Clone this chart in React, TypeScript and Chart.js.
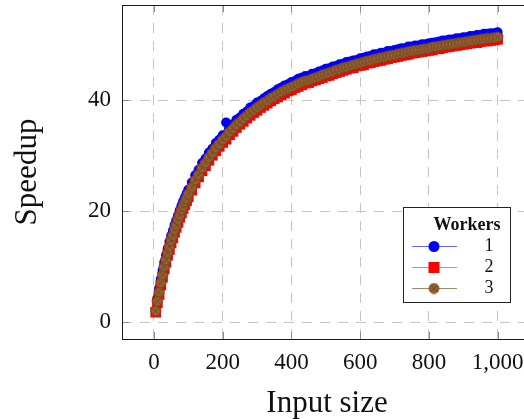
import React, { useEffect, useRef } from 'react';
import { Chart, registerables } from 'chart.js';

Chart.register(...registerables);

const SERIF = "'Liberation Serif', 'DejaVu Serif', serif";

const inputSizes = [
  5, 10, 15, 20, 25, 30, 35, 40, 45, 50, 55, 60, 65, 70, 75, 80, 85, 90, 95, 100,
  110, 120, 130, 140, 150, 160, 170, 180, 190, 200,
  210, 220, 230, 240, 250, 260, 270, 280, 290, 300,
  310, 320, 330, 340, 350, 360, 370, 380, 390, 400,
  410, 420, 430, 440, 450, 460, 470, 480, 490, 500,
  510, 520, 530, 540, 550, 560, 570, 580, 590, 600,
  610, 620, 630, 640, 650, 660, 670, 680, 690, 700,
  710, 720, 730, 740, 750, 760, 770, 780, 790, 800,
  810, 820, 830, 840, 850, 860, 870, 880, 890, 900,
  910, 920, 930, 940, 950, 960, 970, 980, 990, 1000,
];

const workers1 = [
  2.2, 4.3, 6.1, 7.8, 9.3, 10.8, 12.1, 13.3, 14.5, 15.6, 16.5, 17.5, 18.4, 19.3, 20.2, 21.0, 21.8, 22.5, 23.2, 23.9,
  25.2, 26.5, 27.5, 28.7, 29.5, 30.6, 31.3, 32.3, 32.9, 33.7,
  36.0, 35.1, 35.7, 36.5, 36.9, 37.6, 38.0, 38.7, 39.0, 39.6,
  39.9, 40.4, 40.8, 41.2, 41.5, 42.0, 42.3, 42.7, 42.9, 43.3,
  43.5, 43.9, 44.1, 44.4, 44.4, 44.8, 44.9, 45.2, 45.4, 45.7,
  45.8, 46.1, 46.2, 46.5, 46.6, 46.9, 47.0, 47.2, 47.3, 47.6,
  47.7, 47.9, 48.0, 48.3, 48.3, 48.6, 48.6, 48.9, 48.9, 49.1,
  49.2, 49.4, 49.4, 49.7, 49.7, 49.9, 49.9, 50.1, 50.1, 50.3,
  50.4, 50.5, 50.6, 50.8, 50.8, 51.0, 51.0, 51.2, 51.2, 51.4,
  51.4, 51.6, 51.6, 51.8, 51.8, 52.0, 52.0, 52.1, 52.1, 52.3,
];

const workers2 = [
  1.8, 3.5, 5.0, 6.7, 8.1, 9.6, 10.8, 12.1, 13.1, 14.3, 15.2, 16.2, 17.1, 18.0, 18.9, 19.7, 20.5, 21.2, 21.9, 22.6,
  23.8, 25.1, 26.2, 27.3, 28.2, 29.2, 30.1, 30.9, 31.7, 32.4,
  33.0, 33.8, 34.4, 35.1, 35.7, 36.2, 36.8, 37.3, 37.8, 38.2,
  38.7, 39.1, 39.5, 39.9, 40.3, 40.6, 41.0, 41.3, 41.7, 41.9,
  42.3, 42.5, 42.8, 43.1, 43.2, 43.5, 43.7, 43.9, 44.1, 44.4,
  44.5, 44.8, 45.0, 45.2, 45.4, 45.6, 45.8, 45.9, 46.2, 46.3,
  46.4, 46.7, 46.8, 47.0, 47.1, 47.2, 47.4, 47.5, 47.7, 47.8,
  47.9, 48.1, 48.2, 48.3, 48.5, 48.6, 48.7, 48.8, 48.9, 49.0,
  49.1, 49.3, 49.3, 49.5, 49.6, 49.7, 49.8, 49.9, 50.0, 50.1,
  50.2, 50.3, 50.4, 50.4, 50.6, 50.7, 50.7, 50.8, 50.9, 51.0,
];

const workers3 = [
  2.0, 3.8, 5.4, 7.1, 8.5, 10.0, 11.2, 12.5, 13.6, 14.7, 15.6, 16.7, 17.5, 18.5, 19.3, 20.2, 20.9, 21.7, 22.3, 23.1,
  24.3, 25.6, 26.6, 27.8, 28.7, 29.7, 30.5, 31.4, 32.1, 32.9,
  33.5, 34.3, 34.9, 35.6, 36.1, 36.7, 37.2, 37.8, 38.2, 38.7,
  39.1, 39.6, 39.9, 40.4, 40.7, 41.1, 41.5, 41.8, 42.1, 42.4,
  42.7, 43.0, 43.3, 43.5, 43.6, 43.9, 44.1, 44.3, 44.6, 44.8,
  45.0, 45.2, 45.5, 45.6, 45.9, 46.0, 46.2, 46.4, 46.6, 46.7,
  46.9, 47.1, 47.2, 47.4, 47.5, 47.7, 47.8, 48.0, 48.1, 48.2,
  48.4, 48.5, 48.6, 48.8, 48.9, 49.0, 49.1, 49.2, 49.3, 49.4,
  49.6, 49.7, 49.8, 49.9, 50.0, 50.1, 50.2, 50.3, 50.4, 50.5,
  50.6, 50.7, 50.8, 50.9, 51.0, 51.1, 51.2, 51.2, 51.3, 51.4,
];

const seriesLabels = ['1', '2', '3'];
const legendTitle = 'Workers';
const xTicks = [0, 200, 400, 600, 800, 1000];
const yTicks = [0, 20, 40];
const xTitle = 'Input size';
const yTitle = 'Speedup';

const BLUE = '#0000ff';
const RED = '#ff0000';
const BROWN_FILL = '#94602f';
const BROWN_EDGE = '#6a421f';

function makeOtimes(): HTMLCanvasElement {
  const c = document.createElement('canvas');
  c.width = 12;
  c.height = 12;
  const g = c.getContext('2d')!;
  g.beginPath();
  g.arc(6, 6, 5, 0, Math.PI * 2);
  g.fillStyle = BROWN_FILL;
  g.fill();
  g.lineWidth = 0.8;
  g.strokeStyle = BROWN_EDGE;
  g.stroke();
  g.beginPath();
  g.moveTo(2.6, 2.6);
  g.lineTo(9.4, 9.4);
  g.moveTo(9.4, 2.6);
  g.lineTo(2.6, 9.4);
  g.lineWidth = 0.7;
  g.stroke();
  return c;
}

export default function App() {
  const ref = useRef<HTMLCanvasElement | null>(null);

  useEffect(() => {
    const canvas = ref.current;
    if (!canvas) return;
    const otimes = makeOtimes();

    const framePlugin = {
      id: 'framePlugin',
      afterDraw(chart: any) {
        const { ctx, chartArea: a, scales } = chart;
        const xs = scales.x;
        const ys = scales.y;
        ctx.save();
        const line = (x1: number, y1: number, x2: number, y2: number) => {
          ctx.beginPath();
          ctx.moveTo(x1, y1);
          ctx.lineTo(x2, y2);
          ctx.stroke();
        };
        // inner tick marks
        ctx.strokeStyle = '#8c8c8c';
        ctx.lineWidth = 1;
        xs.ticks.forEach((t: any) => {
          const px = Math.round(xs.getPixelForValue(t.value)) + 0.5;
          line(px, a.bottom, px, a.bottom - 7);
          line(px, a.top, px, a.top + 7);
        });
        ys.ticks.forEach((t: any) => {
          const py = Math.round(ys.getPixelForValue(t.value)) + 0.5;
          line(a.left, py, a.left + 7, py);
          line(a.right, py, a.right - 7, py);
        });
        // frame
        ctx.strokeStyle = '#1a1a1a';
        ctx.strokeRect(Math.round(a.left) + 0.5, Math.round(a.top) + 0.5, Math.round(a.width), Math.round(a.height));

        // legend
        const lx = Math.round(a.right) - 129;
        const ly = Math.round(a.bottom) - 132;
        const lw = 107;
        const lh = 95;
        ctx.fillStyle = '#ffffff';
        ctx.fillRect(lx, ly, lw, lh);
        ctx.strokeStyle = '#222222';
        ctx.strokeRect(lx + 0.5, ly + 0.5, lw, lh);
        ctx.fillStyle = '#111111';
        ctx.textAlign = 'center';
        ctx.textBaseline = 'middle';
        ctx.font = `bold 18px ${SERIF}`;
        ctx.fillText(legendTitle, lx + 64, ly + 18);
        ctx.font = `18px ${SERIF}`;
        const rows = [39, 60, 81];
        const lineCols = ['rgba(0,0,255,0.6)', 'rgba(255,0,0,0.55)', 'rgba(140,95,50,0.75)'];
        chart.data.datasets.forEach((ds: any, i: number) => {
          const ry = ly + rows[i] + 0.5;
          ctx.strokeStyle = lineCols[i];
          ctx.lineWidth = 1.2;
          line(lx + 9, ry, lx + 54, ry);
          const mx = lx + 31;
          if (i === 0) {
            ctx.fillStyle = BLUE;
            ctx.beginPath();
            ctx.arc(mx, ry, 5.5, 0, Math.PI * 2);
            ctx.fill();
          } else if (i === 1) {
            ctx.fillStyle = RED;
            ctx.fillRect(mx - 5.5, ry - 5.5, 11, 11);
          } else {
            ctx.drawImage(otimes, mx - 6, ry - 6, 12, 12);
          }
          ctx.fillStyle = '#111111';
          ctx.fillText(ds.label, lx + 86, ry);
        });
        ctx.restore();
      },
    };

    const chart = new Chart(canvas, {
      type: 'scatter',
      data: {
        datasets: [
          {
            label: seriesLabels[0],
            data: inputSizes.map((x, i) => ({ x, y: workers1[i] })),
            showLine: true,
            borderColor: BLUE,
            backgroundColor: BLUE,
            borderWidth: 1,
            pointStyle: 'circle',
            pointRadius: 5,
            pointBorderWidth: 0,
            order: 3,
          },
          {
            label: seriesLabels[1],
            data: inputSizes.map((x, i) => ({ x, y: workers2[i] })),
            showLine: true,
            borderColor: RED,
            backgroundColor: RED,
            borderWidth: 1,
            pointStyle: 'rect',
            pointRadius: 7.5,
            pointBorderWidth: 0,
            order: 2,
          },
          {
            label: seriesLabels[2],
            data: inputSizes.map((x, i) => ({ x, y: workers3[i] })),
            showLine: true,
            borderColor: BROWN_EDGE,
            backgroundColor: BROWN_FILL,
            borderWidth: 1,
            pointStyle: otimes as any,
            pointRadius: 5,
            order: 1,
          },
        ],
      },
      options: {
        animation: false,
        responsive: false,
        maintainAspectRatio: false,
        layout: { autoPadding: false, padding: { top: 5, right: 28, left: 0, bottom: 0 } },
        plugins: { legend: { display: false }, tooltip: { enabled: false } },
        scales: {
          x: {
            type: 'linear',
            min: -93,
            max: 1100,
            afterBuildTicks: (s: any) => {
              s.ticks = xTicks.map((v) => ({ value: v }));
            },
            afterFit: (s: any) => {
              s.height = 80;
              s.paddingLeft = 0;
              s.paddingRight = 0;
            },
            grid: { color: '#c4c4c4', lineWidth: 1, drawTicks: false },
            border: { display: false, dash: [10, 8] },
            ticks: {
              font: { family: SERIF, size: 23 },
              color: '#111111',
              padding: 10,
              maxRotation: 0,
              autoSkip: false,
              callback: (v: any) => Number(v).toLocaleString('en-US'),
            },
            title: {
              display: true,
              text: xTitle,
              font: { family: SERIF, size: 31, lineHeight: 1 },
              color: '#111111',
              padding: { top: 0, bottom: 0 },
            },
          },
          y: {
            type: 'linear',
            min: -3.03,
            max: 57.2,
            afterBuildTicks: (s: any) => {
              s.ticks = yTicks.map((v) => ({ value: v }));
            },
            afterFit: (s: any) => {
              s.width = 122;
              s.paddingTop = 0;
              s.paddingBottom = 0;
            },
            grid: { color: '#c4c4c4', lineWidth: 1, drawTicks: false },
            border: { display: false, dash: [10, 8] },
            ticks: {
              font: { family: SERIF, size: 23 },
              color: '#111111',
              padding: 11,
              callback: (v: any) => String(v),
            },
            title: {
              display: true,
              text: yTitle,
              font: { family: SERIF, size: 31, lineHeight: 1 },
              color: '#111111',
              padding: { top: 12, bottom: 0 },
            },
          },
        },
      },
      plugins: [framePlugin],
    } as any);

    return () => chart.destroy();
  }, []);

  return (
    <div
      style={{
        position: 'fixed',
        left: 0,
        top: 0,
        width: 524,
        height: 419,
        overflow: 'hidden',
        background: '#ffffff',
      }}
    >
      <canvas ref={ref} width={560} height={419} style={{ width: 560, height: 419, display: 'block' }} />
    </div>
  );
}
